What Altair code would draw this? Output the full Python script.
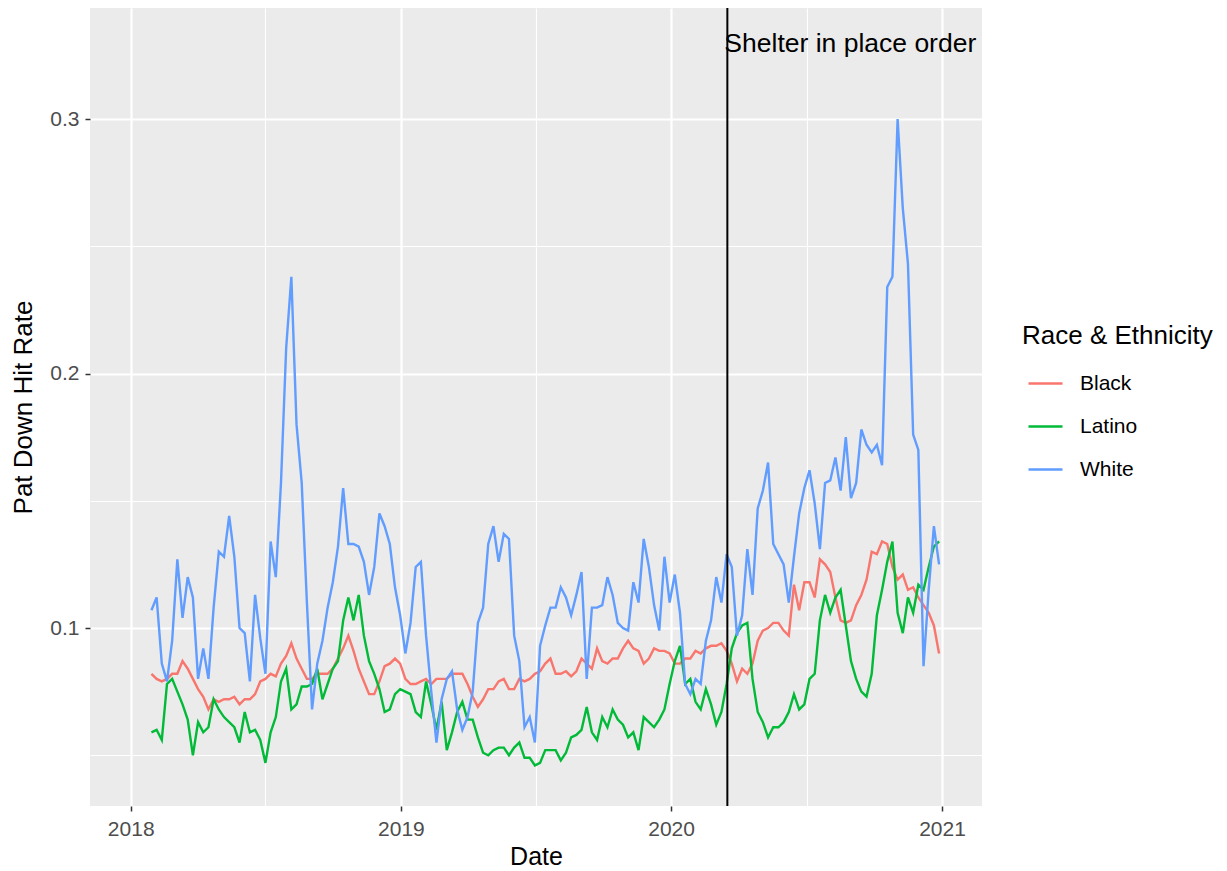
import altair as alt
import pandas as pd

# Weekly readings, starting 2018-01-29
start_date = "2018-01-29"
n_points = 153
dates = pd.date_range(start_date, periods=n_points, freq="7D").strftime("%Y-%m-%d").tolist()

groups = ["Black", "Latino", "White"]
colors = ["#F8766D", "#00BA38", "#619CFF"]

black = [0.082, 0.080, 0.079, 0.080, 0.082, 0.082, 0.087, 0.084, 0.080, 0.076,
         0.073, 0.068, 0.072, 0.071, 0.072, 0.072, 0.073, 0.070, 0.072, 0.072,
         0.074, 0.079, 0.080, 0.082, 0.081, 0.086, 0.089, 0.094, 0.088, 0.084,
         0.080, 0.080, 0.082, 0.082, 0.082, 0.084, 0.088, 0.092, 0.097, 0.091,
         0.084, 0.079, 0.074, 0.074, 0.079, 0.085, 0.086, 0.088, 0.086, 0.080,
         0.078, 0.078, 0.079, 0.080, 0.078, 0.080, 0.080, 0.080, 0.082, 0.082,
         0.082, 0.078, 0.073, 0.069, 0.072, 0.076, 0.076, 0.079, 0.080, 0.076,
         0.076, 0.080, 0.079, 0.080, 0.082, 0.083, 0.086, 0.088, 0.082, 0.082,
         0.083, 0.081, 0.083, 0.088, 0.086, 0.084, 0.092, 0.087, 0.086, 0.088,
         0.088, 0.092, 0.095, 0.092, 0.091, 0.086, 0.088, 0.092, 0.091, 0.091,
         0.090, 0.086, 0.086, 0.088, 0.088, 0.091, 0.090, 0.092, 0.093, 0.093,
         0.094, 0.091, 0.086, 0.079, 0.084, 0.082, 0.086, 0.095, 0.099, 0.100,
         0.102, 0.102, 0.099, 0.097, 0.117, 0.107, 0.118, 0.118, 0.112, 0.127,
         0.125, 0.122, 0.112, 0.103, 0.102, 0.103, 0.109, 0.113, 0.119, 0.130,
         0.129, 0.134, 0.133, 0.124, 0.119, 0.121, 0.115, 0.116, 0.112, 0.109,
         0.106, 0.101, 0.090]

latino = [0.059, 0.060, 0.056, 0.078, 0.080, 0.075, 0.070, 0.064, 0.050, 0.063,
          0.059, 0.061, 0.072, 0.068, 0.065, 0.063, 0.061, 0.055, 0.067, 0.059,
          0.060, 0.056, 0.047, 0.059, 0.065, 0.079, 0.084, 0.068, 0.070, 0.077,
          0.077, 0.078, 0.084, 0.072, 0.078, 0.084, 0.087, 0.103, 0.112, 0.103,
          0.113, 0.097, 0.087, 0.082, 0.076, 0.067, 0.068, 0.074, 0.076, 0.075,
          0.074, 0.067, 0.065, 0.079, 0.070, 0.060, 0.071, 0.052, 0.059, 0.067,
          0.071, 0.064, 0.064, 0.057, 0.051, 0.050, 0.052, 0.053, 0.053, 0.050,
          0.053, 0.055, 0.049, 0.049, 0.046, 0.047, 0.052, 0.052, 0.052, 0.048,
          0.051, 0.057, 0.058, 0.060, 0.069, 0.059, 0.056, 0.065, 0.061, 0.068,
          0.064, 0.062, 0.057, 0.059, 0.052, 0.065, 0.063, 0.061, 0.064, 0.068,
          0.078, 0.087, 0.093, 0.078, 0.080, 0.071, 0.068, 0.076, 0.070, 0.062,
          0.067, 0.078, 0.092, 0.098, 0.101, 0.102, 0.080, 0.067, 0.063, 0.057,
          0.061, 0.061, 0.063, 0.067, 0.074, 0.068, 0.070, 0.080, 0.082, 0.103,
          0.113, 0.106, 0.112, 0.115, 0.101, 0.087, 0.080, 0.075, 0.073, 0.082,
          0.105, 0.115, 0.126, 0.134, 0.106, 0.098, 0.112, 0.106, 0.117, 0.115,
          0.124, 0.132, 0.134]

white = [0.107, 0.112, 0.086, 0.079, 0.095, 0.127, 0.104, 0.120, 0.112, 0.080,
         0.092, 0.080, 0.108, 0.130, 0.128, 0.144, 0.128, 0.100, 0.098, 0.079,
         0.113, 0.096, 0.082, 0.134, 0.120, 0.157, 0.210, 0.238, 0.180, 0.157,
         0.110, 0.068, 0.086, 0.095, 0.108, 0.118, 0.132, 0.155, 0.133, 0.133,
         0.132, 0.126, 0.113, 0.124, 0.145, 0.140, 0.133, 0.116, 0.105, 0.090,
         0.102, 0.124, 0.126, 0.097, 0.075, 0.055, 0.072, 0.080, 0.083, 0.068,
         0.060, 0.065, 0.075, 0.102, 0.108, 0.133, 0.140, 0.126, 0.137, 0.135,
         0.097, 0.087, 0.061, 0.065, 0.055, 0.093, 0.101, 0.108, 0.108, 0.116,
         0.112, 0.105, 0.113, 0.122, 0.080, 0.108, 0.108, 0.109, 0.120, 0.113,
         0.102, 0.100, 0.099, 0.118, 0.110, 0.135, 0.124, 0.109, 0.099, 0.128,
         0.110, 0.121, 0.106, 0.078, 0.074, 0.080, 0.078, 0.095, 0.103, 0.120,
         0.110, 0.129, 0.124, 0.097, 0.105, 0.131, 0.113, 0.147, 0.154, 0.165,
         0.133, 0.129, 0.125, 0.110, 0.128, 0.145, 0.155, 0.162, 0.149, 0.131,
         0.157, 0.158, 0.167, 0.154, 0.175, 0.151, 0.157, 0.178, 0.172, 0.169,
         0.172, 0.164, 0.234, 0.238, 0.300, 0.265, 0.243, 0.176, 0.170, 0.085,
         0.115, 0.140, 0.125]

shelter_date = ["2020-03-17"]
shelter_label = ["Shelter in place order"]
shelter_label_y = [0.3295]

y_ticks = [0.05, 0.10, 0.15, 0.20, 0.25, 0.30]
x_ticks = [(2018, 1, 1), (2018, 7, 2), (2019, 1, 1), (2019, 7, 2),
           (2020, 1, 1), (2020, 7, 2), (2021, 1, 1)]

df = pd.DataFrame({
    "Date": dates * 3,
    "group": ["Black"] * n_points + ["Latino"] * n_points + ["White"] * n_points,
    "rate": black + latino + white,
})
ann = pd.DataFrame({"Date": shelter_date, "label": shelter_label, "y": shelter_label_y})

FONT = "Liberation Sans"
major_y = "abs(datum.value*10 - round(datum.value*10)) < 0.01"
major_x = "utcmonth(datum.value) == 0"

x_scale = alt.Scale(type="utc",
                    domain=[alt.DateTime(year=2017, month=11, date=7, utc=True),
                            alt.DateTime(year=2021, month=2, date=24, utc=True)])
y_scale = alt.Scale(domain=[0.03006, 0.34362], nice=False, zero=False)

x_axis = alt.Axis(
    title="Date",
    values=[alt.DateTime(year=y, month=m, date=d, utc=True) for (y, m, d) in x_ticks],
    labelExpr="utcmonth(datum.value) == 0 ? utcFormat(datum.value, '%Y') : ''",
    gridColor="white",
    gridWidth={"condition": {"test": major_x, "value": 2.2}, "value": 1.1},
    tickOpacity={"condition": {"test": major_x, "value": 1}, "value": 0},
    domain=False, tickColor="#333333", tickSize=5, tickWidth=1.5,
    labelColor="#4D4D4D", labelFontSize=21, labelFont=FONT, labelPadding=7,
    titleFont=FONT, titleFontSize=25, titleFontWeight="normal", titleColor="black",
    titlePadding=5, labelFlush=False,
)
y_axis = alt.Axis(
    title="Pat Down Hit Rate",
    values=y_ticks,
    labelExpr=major_y + " ? format(datum.value, '.1f') : ''",
    gridColor="white",
    gridWidth={"condition": {"test": major_y, "value": 2.2}, "value": 1.1},
    tickOpacity={"condition": {"test": major_y, "value": 1}, "value": 0},
    domain=False, tickColor="#333333", tickSize=5, tickWidth=1.5,
    labelColor="#4D4D4D", labelFontSize=21, labelFont=FONT, labelPadding=6,
    titleFont=FONT, titleFontSize=26, titleFontWeight="normal", titleColor="black",
    titlePadding=13, labelFlush=False,
)

lines = alt.Chart(df).mark_line(strokeWidth=2.4, clip=True).encode(
    x=alt.X("Date:T", scale=x_scale, axis=x_axis),
    y=alt.Y("rate:Q", scale=y_scale, axis=y_axis),
    color=alt.Color("group:N",
                    scale=alt.Scale(domain=groups, range=colors),
                    legend=alt.Legend(
                        title="Race & Ethnicity", orient="none",
                        legendX=932, legendY=315, padding=0,
                        symbolType="stroke", symbolSize=1156, symbolStrokeWidth=2.4,
                        symbolOffset=5, rowPadding=14, titlePadding=16, labelOffset=16,
                        labelFontSize=21, labelFont=FONT, labelColor="black",
                        titleFontSize=26, titleFont=FONT, titleFontWeight="normal",
                        titleColor="black", titleLimit=400, labelLimit=300,
                    )),
    detail="group:N",
)

vline = alt.Chart(ann).mark_rule(color="black", strokeWidth=2).encode(
    x=alt.X("Date:T", scale=x_scale),
)

label = alt.Chart(ann).mark_text(
    align="left", baseline="middle", fontSize=26.5, font=FONT, color="black", dx=-3
).encode(
    x=alt.X("Date:T", scale=x_scale),
    y=alt.Y("y:Q", scale=y_scale),
    text="label:N",
)

chart = alt.layer(lines, vline, label).properties(
    width=892, height=798,
    padding={"left": 82, "top": 0, "right": 237, "bottom": 65},
    autosize=alt.AutoSizeParams(type="none"),
    background="white",
).configure_view(fill="#EBEBEB", strokeWidth=0)

chart.save("out.html", embed_options={"renderer": "svg", "actions": False})
